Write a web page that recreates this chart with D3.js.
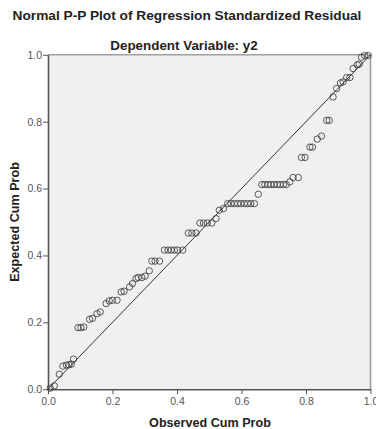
<!DOCTYPE html>
<html>
<head>
<meta charset="utf-8">
<script src="https://cdn.jsdelivr.net/npm/d3@7"></script>
<style>
  html, body { margin: 0; padding: 0; background: #fff; }
  svg { display: block; }
</style>
</head>
<body>
<svg id="chart" width="376" height="429"></svg>
<script>
const title = "Normal P-P Plot of Regression Standardized Residual";
const subtitle = "Dependent Variable: y2";
const xLabel = "Observed Cum Prob";
const yLabel = "Expected Cum Prob";
const tickValues = [0, 0.2, 0.4, 0.6, 0.8, 1.0];

const observed = [
  0.007, 0.0195, 0.035, 0.046, 0.057, 0.065, 0.072, 0.079,
  0.093, 0.102, 0.111, 0.129, 0.138, 0.152, 0.162,
  0.180, 0.190, 0.200, 0.214, 0.227, 0.236,
  0.253, 0.262, 0.273, 0.280, 0.291, 0.301, 0.314,
  0.322, 0.332, 0.346,
  0.361, 0.372, 0.382, 0.392, 0.402, 0.418,
  0.435, 0.446, 0.459,
  0.471, 0.482, 0.494, 0.508,
  0.521, 0.531, 0.544,
  0.557, 0.567, 0.578, 0.588, 0.598, 0.609, 0.619, 0.629, 0.640,
  0.652,
  0.663, 0.672, 0.682, 0.691, 0.701, 0.711, 0.720, 0.730, 0.739,
  0.750, 0.760, 0.776, 0.786, 0.797, 0.812, 0.820, 0.835, 0.848,
  0.864, 0.872, 0.884, 0.895, 0.907, 0.915, 0.926, 0.936,
  0.946, 0.959, 0.965, 0.972, 0.982, 0.993
];
const expected = [
  0.003, 0.010, 0.045, 0.069, 0.072, 0.073, 0.075, 0.090,
  0.184, 0.184, 0.186, 0.209, 0.212, 0.226, 0.231,
  0.256, 0.264, 0.266, 0.266, 0.291, 0.293,
  0.306, 0.316, 0.331, 0.334, 0.334, 0.338, 0.354,
  0.383, 0.383, 0.383,
  0.416, 0.416, 0.416, 0.416, 0.416, 0.416,
  0.467, 0.467, 0.467,
  0.497, 0.497, 0.497, 0.497,
  0.510, 0.535, 0.540,
  0.555, 0.555, 0.555, 0.555, 0.555, 0.555, 0.555, 0.555, 0.555,
  0.583,
  0.612, 0.612, 0.612, 0.612, 0.612, 0.612, 0.612, 0.612, 0.612,
  0.620, 0.633, 0.633, 0.693, 0.693, 0.724, 0.724, 0.748, 0.757,
  0.804, 0.804, 0.874, 0.899, 0.916, 0.919, 0.932, 0.932,
  0.959, 0.970, 0.972, 0.993, 0.998, 0.998
];

(function () {
const svg = d3.select("#chart");
const pLeft = 48, pRight = 370.5, pTop = 54.8, pBottom = 389.2;

const x = d3.scaleLinear().domain([0, 1]).range([pLeft, pRight]);
const y = d3.scaleLinear().domain([0, 1]).range([pBottom, pTop]);

svg.append("rect")
  .attr("x", pLeft).attr("y", pTop)
  .attr("width", pRight - pLeft).attr("height", pBottom - pTop)
  .attr("fill", "#f0f0f0");

svg.append("path")
  .attr("d", `M${pLeft},${pTop}H${pRight}V${pBottom}`)
  .attr("fill", "none").attr("stroke", "#a0a0a0").attr("stroke-width", 1.6);

const xAxis = d3.axisBottom(x).tickValues(tickValues).tickFormat(d3.format(".1f")).tickSize(5).tickSizeOuter(0);
const yAxis = d3.axisLeft(y).tickValues(tickValues).tickFormat(d3.format(".1f")).tickSize(5).tickSizeOuter(0);

const gx = svg.append("g").attr("transform", `translate(0,${pBottom})`).call(xAxis);
const gy = svg.append("g").attr("transform", `translate(${pLeft},0)`).call(yAxis);

[gx, gy].forEach(g => {
  g.select(".domain").attr("stroke", "#555").attr("stroke-width", 1.6);
  g.selectAll(".tick line").attr("stroke", "#555").attr("stroke-width", 1);
  g.selectAll(".tick text")
    .attr("fill", "#555")
    .style("font-family", "'Liberation Sans', Arial, sans-serif")
    .style("font-size", "10.5px");
});
gx.selectAll(".tick text").attr("dy", "0.71em").attr("y", 8);
gy.selectAll(".tick text").attr("x", -6);

svg.append("line")
  .attr("x1", x(0)).attr("y1", y(0))
  .attr("x2", x(1)).attr("y2", y(1))
  .attr("stroke", "#333").attr("stroke-width", 1);

const pts = observed.map((o, i) => ({ o, e: expected[i] }));
svg.append("g").selectAll("circle").data(pts).join("circle")
  .attr("cx", d => x(d.o))
  .attr("cy", d => y(d.e))
  .attr("r", 3.2)
  .attr("fill", "none")
  .attr("stroke", "#333")
  .attr("stroke-width", 0.8);

const font = "'Liberation Sans', Arial, sans-serif";

svg.append("text")
  .attr("x", 187).attr("y", 20)
  .attr("text-anchor", "middle")
  .style("font-family", font).style("font-size", "13.7px").style("font-weight", "bold")
  .attr("fill", "#222")
  .text(title);

svg.append("text")
  .attr("x", 184).attr("y", 50)
  .attr("text-anchor", "middle")
  .style("font-family", font).style("font-size", "13.4px").style("font-weight", "bold")
  .attr("fill", "#222")
  .text(subtitle);

svg.append("text")
  .attr("x", 210).attr("y", 427)
  .attr("text-anchor", "middle")
  .style("font-family", font).style("font-size", "12.6px").style("font-weight", "bold")
  .attr("fill", "#222")
  .text(xLabel);

svg.append("text")
  .attr("transform", `translate(18.5,${(pTop + pBottom) / 2}) rotate(-90)`)
  .attr("text-anchor", "middle")
  .style("font-family", font).style("font-size", "12.6px").style("font-weight", "bold")
  .attr("fill", "#222")
  .text(yLabel);
})();
</script>
</body>
</html>
